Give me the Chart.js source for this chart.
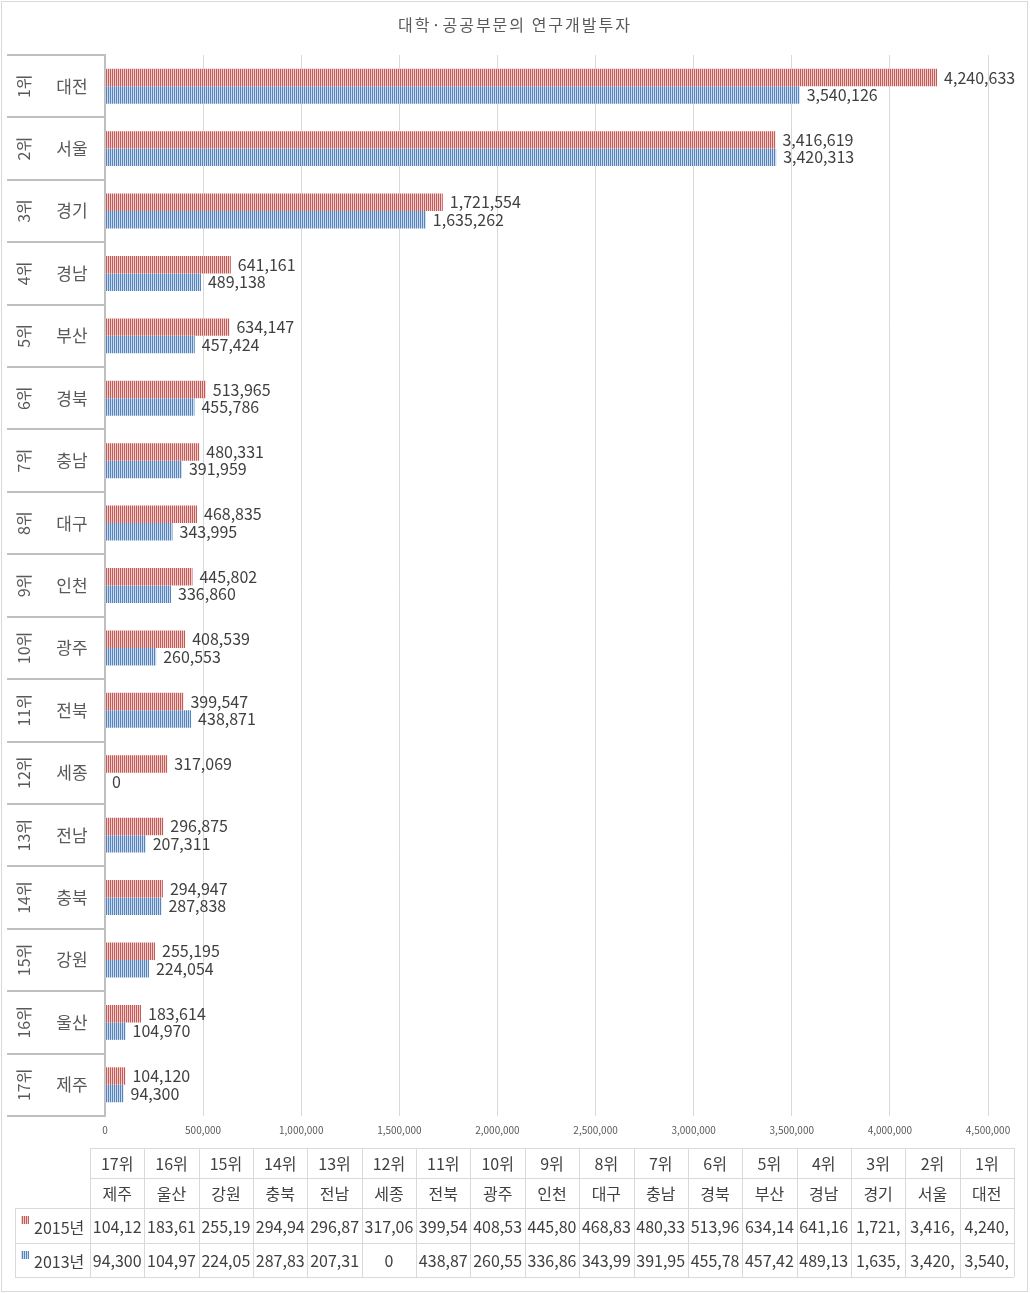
<!DOCTYPE html>
<html>
<head>
<meta charset="utf-8">
<script src="https://cdn.jsdelivr.net/npm/chart.js@4.4.1/dist/chart.umd.min.js"></script>
<style>
  html, body { margin: 0; padding: 0; background: #fff; }
  #wrap { width: 1030px; height: 1293px; }
</style>
</head>
<body>
<div id="wrap"><canvas id="chart"></canvas></div>
<script>
// data, in the order of the table under the chart (17th place first)
const chartTitle = '대학·공공부문의 연구개발투자';
const ranks = ['17위', '16위', '15위', '14위', '13위', '12위', '11위', '10위', '9위',
               '8위', '7위', '6위', '5위', '4위', '3위', '2위', '1위'];
const regions = ['제주', '울산', '강원', '충북', '전남', '세종', '전북', '광주', '인천',
                 '대구', '충남', '경북', '부산', '경남', '경기', '서울', '대전'];
const values2015 = [104120, 183614, 255195, 294947, 296875, 317069, 399547, 408539, 445802,
                    468835, 480331, 513965, 634147, 641161, 1721554, 3416619, 4240633];
const values2013 = [94300, 104970, 224054, 287838, 207311, 0, 438871, 260553, 336860,
                    343995, 391959, 455786, 457424, 489138, 1635262, 3420313, 3540126];
const seriesNames = ['2015년', '2013년'];
const xMax = 4500000;
const xStep = 500000;

const FONT = "'Noto Sans CJK KR', 'Noto Sans', sans-serif";
const fmt = v => v.toLocaleString('en-US');

// vertical stripe fill like the excel pattern
function stripe(dark, light) {
    const c = document.createElement('canvas');
    c.width = 2; c.height = 1;
    const g = c.getContext('2d');
    g.fillStyle = light; g.fillRect(0, 0, 2, 1);
    g.fillStyle = dark; g.fillRect(0, 0, 1, 1);
    return g.createPattern(c, 'repeat');
}
const redFill = stripe('#c55a57', '#efcfce');
const blueFill = stripe('#5585bf', '#cddaec');
const fills = [redFill, blueFill];

// title, border, category labels, value labels and the data table
const decor = {
    id: 'decor',
    afterDraw(chart) {
        const ctx = chart.ctx;
        const area = chart.chartArea;
        const y = chart.scales.y;

        ctx.save();
        // outer border
        ctx.strokeStyle = '#d9d9d9';
        ctx.lineWidth = 1;
        ctx.strokeRect(1.5, 1.5, 1026, 1290);

        // title
        ctx.fillStyle = '#595959';
        ctx.font = '16px ' + FONT;
        ctx.letterSpacing = '2px';
        ctx.textAlign = 'center';
        ctx.textBaseline = 'middle';
        ctx.fillText(chartTitle, 515, 25);
        ctx.letterSpacing = '0px';

        // category label boxes
        const h = Math.abs(y.getPixelForValue(1) - y.getPixelForValue(0));
        ctx.strokeStyle = '#bfbfbf';
        ctx.lineWidth = 2;
        for (let i = 0; i <= regions.length; i++) {
            const yy = Math.round(area.top + i * h);
            ctx.beginPath();
            ctx.moveTo(7, yy);
            ctx.lineTo(area.left, yy);
            ctx.stroke();
        }
        ctx.fillStyle = '#595959';
        regions.forEach((r, i) => {
            const py = y.getPixelForValue(i);
            ctx.font = '17px ' + FONT;
            ctx.textAlign = 'center';
            ctx.fillText(r, 72, py);
            ctx.save();
            ctx.translate(24, py);
            ctx.rotate(-Math.PI / 2);
            ctx.font = '16px ' + FONT;
            ctx.fillText(ranks[i], 0, 0);
            ctx.restore();
        });

        // value labels at bar ends
        ctx.font = '16px ' + FONT;
        ctx.fillStyle = '#404040';
        ctx.textAlign = 'left';
        chart.data.datasets.forEach((ds, di) => {
            chart.getDatasetMeta(di).data.forEach((bar, i) => {
                ctx.fillText(fmt(ds.data[i]), bar.x + 7, bar.y);
            });
        });

        // data table
        const tl = 90, tr = 1014, legendLeft = 15;
        const rows = [1148, 1178, 1208, 1243, 1277];
        const n = regions.length;
        const cw = (tr - tl) / n;
        ctx.strokeStyle = '#d9d9d9';
        ctx.lineWidth = 1;
        rows.forEach((ry, k) => {
            ctx.beginPath();
            ctx.moveTo(k >= 2 ? legendLeft : tl, ry + 0.5);
            ctx.lineTo(tr, ry + 0.5);
            ctx.stroke();
        });
        ctx.beginPath();
        ctx.moveTo(legendLeft + 0.5, rows[2]);
        ctx.lineTo(legendLeft + 0.5, rows[4]);
        for (let c = 0; c <= n; c++) {
            const x = Math.round(tl + c * cw) + 0.5;
            ctx.moveTo(x, rows[0]);
            ctx.lineTo(x, rows[4]);
        }
        ctx.stroke();

        ctx.font = '16px ' + FONT;
        ctx.fillStyle = '#404040';
        ctx.textAlign = 'center';
        // excel drops the characters that do not fit in the cell
        const fit = s => {
            while (s.length > 1 && ctx.measureText(s).width > cw - 3) s = s.slice(0, -1);
            return s;
        };
        const series = chart.data.datasets.map(d => d.data);
        for (let c = 0; c < n; c++) {
            const cx = tl + c * cw + cw / 2;
            ctx.fillText(ranks[c], cx, (rows[0] + rows[1]) / 2 + 1);
            ctx.fillText(regions[c], cx, (rows[1] + rows[2]) / 2 + 1);
            series.forEach((vals, s) => {
                ctx.fillText(fit(fmt(vals[c])), cx, (rows[2 + s] + rows[3 + s]) / 2 + 1);
            });
        }
        // legend keys in the table
        ctx.textAlign = 'left';
        seriesNames.forEach((name, s) => {
            const ry = rows[2 + s];
            ctx.fillStyle = fills[s];
            ctx.fillRect(21, ry + 8, 8, 8);
            ctx.fillStyle = '#404040';
            ctx.fillText(name, 34, (ry + rows[3 + s]) / 2 + 2);
        });
        ctx.restore();
    }
};

Chart.defaults.font.family = FONT;
Chart.defaults.color = '#595959';

new Chart(document.getElementById('chart'), {
    type: 'bar',
    data: {
        labels: regions,
        datasets: [
            { label: seriesNames[0], data: values2015, backgroundColor: redFill, borderWidth: 0 },
            { label: seriesNames[1], data: values2013, backgroundColor: blueFill, borderWidth: 0 }
        ]
    },
    options: {
        indexAxis: 'y',
        responsive: true,
        maintainAspectRatio: false,
        animation: false,
        categoryPercentage: 0.56,
        barPercentage: 1,
        layout: { padding: { top: 55, left: 7, right: 42, bottom: 147 } },
        plugins: {
            legend: { display: false },
            tooltip: { enabled: false },
            title: { display: false }
        },
        scales: {
            x: {
                min: 0,
                max: xMax,
                ticks: {
                    stepSize: xStep,
                    padding: 8,
                    maxRotation: 0,
                    font: { size: 10 },
                    color: '#595959',
                    callback: v => fmt(v)
                },
                grid: { color: '#d9d9d9', drawTicks: false },
                border: { display: false },
                afterFit: s => { s.height = 30; }
            },
            y: {
                reverse: true,
                ticks: { display: false },
                grid: { display: false },
                border: { color: '#bfbfbf', width: 2 },
                afterFit: s => { s.width = 98; }
            }
        }
    },
    plugins: [decor]
});
</script>
</body>
</html>
